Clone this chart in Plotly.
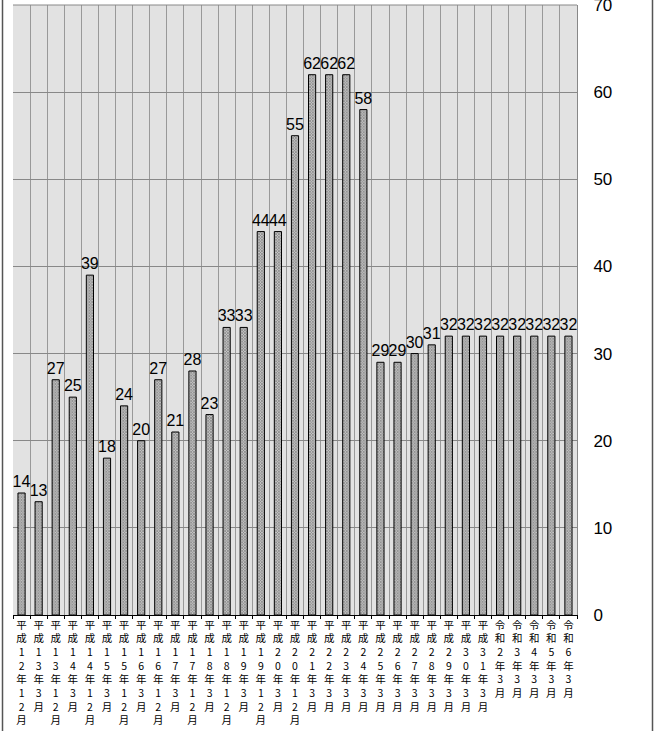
import plotly.graph_objects as go

categories = [
    "平成12年12月", "平成13年3月", "平成13年12月", "平成14年3月", "平成14年12月",
    "平成15年3月", "平成15年12月", "平成16年3月", "平成16年12月", "平成17年3月",
    "平成17年12月", "平成18年3月", "平成18年12月", "平成19年3月", "平成19年12月",
    "平成20年3月", "平成20年12月", "平成21年3月", "平成22年3月", "平成23年3月",
    "平成24年3月", "平成25年3月", "平成26年3月", "平成27年3月", "平成28年3月",
    "平成29年3月", "平成30年3月", "平成31年3月", "令和2年3月", "令和3年3月",
    "令和4年3月", "令和5年3月", "令和6年3月",
]
values = [14, 13, 27, 25, 39, 18, 24, 20, 27, 21, 28, 23, 33, 33, 44, 44, 55, 62,
          62, 62, 58, 29, 29, 30, 31, 32, 32, 32, 32, 32, 32, 32, 32]
y_ticks = [0, 10, 20, 30, 40, 50, 60, 70]

tick_text = ["<br>".join(list(c)) for c in categories]

W, H = 659, 731
L, R, T, B = 13, 82, 5, 116

fig = go.Figure()
fig.add_trace(go.Bar(
    x=categories, y=values,
    text=[str(v) for v in values], textposition="outside",
    constraintext="none",
    textfont=dict(size=16, color="black", family="Liberation Sans, Arial"),
    cliponaxis=False,
    marker=dict(color="#909090",
                line=dict(color="black", width=1),
                pattern=dict(shape="x", fgcolor="#444444", bgcolor="#c4c4c4",
                             size=2, solidity=0.6)),
    width=0.42,
    showlegend=False,
))

fig.update_layout(
    width=W, height=H,
    margin=dict(l=L, r=R, t=T, b=B, autoexpand=False),
    paper_bgcolor="white", plot_bgcolor="#e2e2e2",
    font=dict(family="Noto Sans CJK JP, Liberation Sans", color="black"),
    xaxis=dict(
        type="category", tickmode="array", tickvals=categories, ticktext=tick_text,
        tickson="boundaries", ticks="outside", ticklen=3, tickcolor="black",
        showgrid=True, gridcolor="#999999", gridwidth=1,
        showline=True, linecolor="black", linewidth=1,
        tickfont=dict(size=10.5, family="Noto Sans CJK JP"),
        tickangle=0, automargin=False,
    ),
    yaxis=dict(
        side="right", range=[0, 70], tickmode="array", tickvals=y_ticks,
        showgrid=True, gridcolor="#888888", gridwidth=1,
        showline=True, linecolor="#888888", linewidth=1, mirror=False,
        tickfont=dict(size=17, family="Liberation Sans, Arial"),
        ticks="", ticklabelstandoff=12, zeroline=False, automargin=False,
        ticklabeloverflow="allow",
    ),
    yaxis2=dict(
        overlaying="y", side="left", range=[0, 70], tickmode="array",
        tickvals=y_ticks, ticks="outside", ticklen=3, tickcolor="black",
        showticklabels=False, showgrid=False, showline=True,
        linecolor="black", linewidth=1, zeroline=False, automargin=False,
    ),
)

pw = W - L - R
ph = H - T - B
# top frame line
fig.add_shape(type="line", xref="paper", yref="paper", x0=0, x1=1, y0=1, y1=1,
              line=dict(color="#888888", width=1))
# outer page border lines
xl = (2.5 - L) / pw
xr = (652.5 - L) / pw
yb = -(B + 5) / ph
yt = 1 + (T + 5) / ph
fig.add_shape(type="line", xref="paper", yref="paper", x0=xl, x1=xl, y0=yb, y1=yt,
              line=dict(color="#555555", width=1.5))
fig.add_shape(type="line", xref="paper", yref="paper", x0=xr, x1=xr, y0=yb, y1=yt,
              line=dict(color="#555555", width=1.5))

fig.write_html("out.html", config={"displayModeBar": False},
               post_script="document.body.style.margin='0';document.body.style.overflow='hidden';")
